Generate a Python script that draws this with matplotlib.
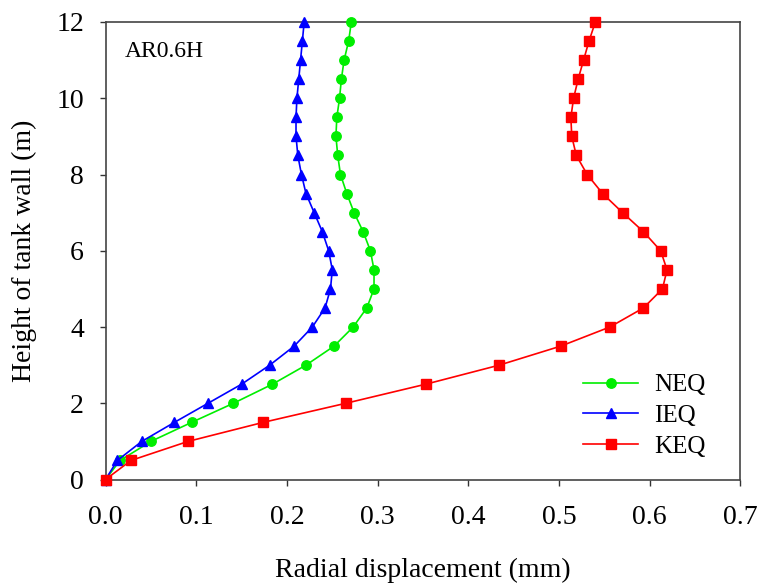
import matplotlib
matplotlib.use("Agg")
import matplotlib.pyplot as plt
from matplotlib.ticker import FormatStrFormatter

# Wall height stations (m)
heights = [0, 0.5, 1, 1.5, 2, 2.5, 3, 3.5, 4, 4.5, 5, 5.5, 6,
           6.5, 7, 7.5, 8, 8.5, 9, 9.5, 10, 10.5, 11, 11.5, 12]

# Radial displacement (mm) for each loading case
neq = [0.0, 0.016, 0.050, 0.095, 0.141, 0.184, 0.221, 0.252, 0.273, 0.288,
       0.296, 0.296, 0.292, 0.284, 0.274, 0.266, 0.259, 0.256, 0.254, 0.255,
       0.258, 0.260, 0.263, 0.268, 0.271]
ieq = [0.0, 0.013, 0.040, 0.076, 0.113, 0.150, 0.181, 0.208, 0.228, 0.242,
       0.248, 0.250, 0.246, 0.239, 0.230, 0.221, 0.216, 0.212, 0.210, 0.210,
       0.211, 0.213, 0.215, 0.217, 0.219]
keq = [0.0, 0.028, 0.091, 0.174, 0.265, 0.353, 0.434, 0.502, 0.556, 0.593,
       0.614, 0.619, 0.612, 0.593, 0.570, 0.548, 0.531, 0.519, 0.514, 0.513,
       0.516, 0.521, 0.527, 0.533, 0.540]

x_ticks = [0.0, 0.1, 0.2, 0.3, 0.4, 0.5, 0.6, 0.7]
y_ticks = [0, 2, 4, 6, 8, 10, 12]

plt.rcParams["font.family"] = ["Liberation Serif", "DejaVu Serif"]

fig = plt.figure(figsize=(7.63, 5.85), dpi=100)
ax = fig.add_axes([0.1383, 0.1803, 0.8322, 0.7821])

ax.plot(neq, heights, color="#00EE00", lw=1.2, marker="o", ms=6.8,
        label="NEQ", zorder=3)
ax.plot(ieq, heights, color="#0000FF", lw=1.2, marker="^", ms=7.3,
        label="IEQ", zorder=3)
ax.plot(keq, heights, color="#FF0000", lw=1.2, marker="s", ms=6.8,
        label="KEQ", zorder=4)

ax.set_xlim(0, 0.7)
ax.set_ylim(0, 12)
ax.set_xticks(x_ticks)
ax.set_yticks(y_ticks)
ax.xaxis.set_major_formatter(FormatStrFormatter("%.1f"))
ax.tick_params(direction="out", length=4.5, width=1, colors="#333333",
               labelcolor="black", labelsize=20, top=False, right=False)
ax.tick_params(axis="x", pad=14)
ax.tick_params(axis="y", pad=11)
for s in ax.spines.values():
    s.set_color("#444444")
    s.set_linewidth(1.2)
for m in ax.lines:
    m.set_clip_on(False)

ax.set_xlabel("Radial displacement (mm)", fontsize=20, labelpad=20)
ax.set_ylabel("Height of tank wall (m)", fontsize=20, labelpad=14)

ax.text(0.03, 0.935, "AR0.6H", transform=ax.transAxes, fontsize=17,
        ha="left", va="center")

leg = ax.legend(loc="lower right", bbox_to_anchor=(0.973, 0.009),
                frameon=False, fontsize=18, handlelength=2.2,
                handletextpad=0.65, labelspacing=0.33, borderaxespad=0.3)

fig.savefig("out.png", dpi=100)
